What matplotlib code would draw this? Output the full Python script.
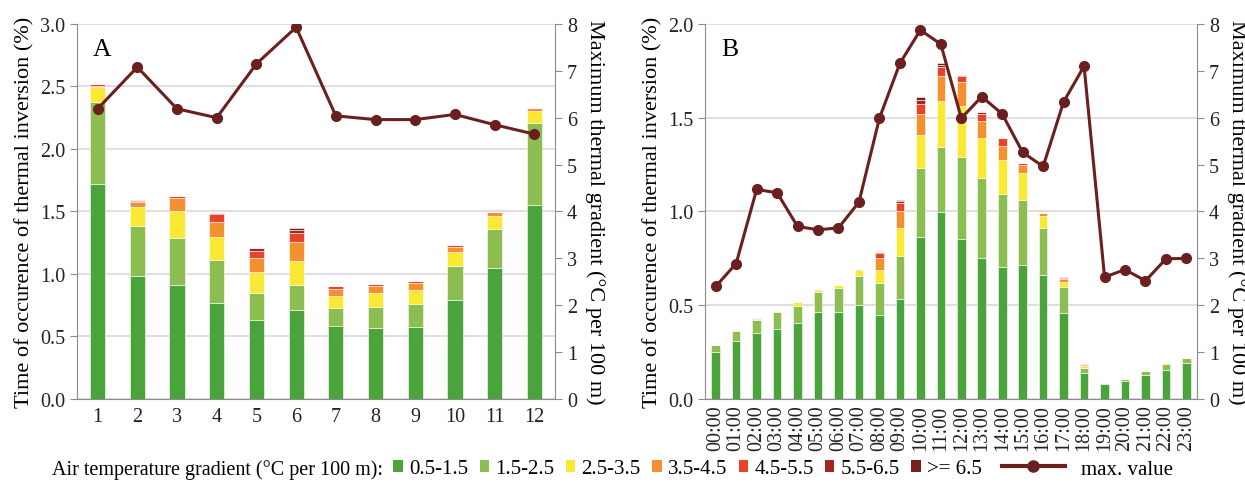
import numpy as np
import matplotlib
matplotlib.use('Agg')
from matplotlib import pyplot as plt
from matplotlib.patches import Patch
from matplotlib.lines import Line2D

# classes of air temperature gradient (°C per 100 m)
classes = ['0.5-1.5', '1.5-2.5', '2.5-3.5', '3.5-4.5', '4.5-5.5', '5.5-6.5', '>= 6.5']
colors = ['#4ba33c', '#8bbd50', '#f9e935', '#f39131', '#e8442b', '#a4281f', '#7a1d1c']
line_color = '#6c1f1f'

# panel A: months
months = [str(m) for m in range(1, 13)]
a_g1 = [1.717, 0.985, 0.911, 0.769, 0.633, 0.708, 0.585, 0.569, 0.574, 0.788, 1.044, 1.555]
a_g2 = [0.660, 0.401, 0.379, 0.345, 0.216, 0.200, 0.142, 0.166, 0.187, 0.275, 0.313, 0.651]
a_g3 = [0.120, 0.147, 0.216, 0.181, 0.168, 0.198, 0.098, 0.112, 0.110, 0.112, 0.104, 0.096]
a_g4 = [0.010, 0.045, 0.099, 0.123, 0.107, 0.147, 0.051, 0.056, 0.058, 0.043, 0.035, 0.024]
a_g5 = [0.010, 0.008, 0.019, 0.062, 0.056, 0.074, 0.024, 0.013, 0.016, 0.016, 0.000, 0.000]
a_g6 = [0.000, 0.006, 0.000, 0.010, 0.027, 0.021, 0.000, 0.000, 0.000, 0.000, 0.000, 0.000]
a_g7 = [0.000, 0.000, 0.000, 0.000, 0.000, 0.017, 0.000, 0.000, 0.000, 0.000, 0.000, 0.000]
a_max = [6.19, 7.08, 6.19, 6.00, 7.15, 7.93, 6.04, 5.96, 5.96, 6.07, 5.85, 5.65]

# panel B: hours
hours = ['%02d:00' % h for h in range(24)]
b_g1 = [0.252, 0.311, 0.354, 0.373, 0.407, 0.464, 0.462, 0.501, 0.450, 0.533, 0.866, 0.999,
        0.855, 0.752, 0.706, 0.715, 0.661, 0.457, 0.139, 0.078, 0.096, 0.126, 0.157, 0.190]
b_g2 = [0.038, 0.053, 0.067, 0.089, 0.091, 0.105, 0.132, 0.157, 0.167, 0.228, 0.366, 0.347,
        0.436, 0.425, 0.389, 0.348, 0.251, 0.139, 0.026, 0.007, 0.011, 0.023, 0.031, 0.027]
b_g3 = [0.000, 0.004, 0.006, 0.005, 0.018, 0.014, 0.012, 0.030, 0.071, 0.153, 0.174, 0.242,
        0.270, 0.213, 0.180, 0.142, 0.066, 0.030, 0.009, 0.000, 0.000, 0.000, 0.003, 0.002]
b_g4 = [0.000, 0.000, 0.003, 0.000, 0.000, 0.003, 0.000, 0.005, 0.062, 0.087, 0.112, 0.137,
        0.131, 0.094, 0.076, 0.043, 0.016, 0.012, 0.005, 0.000, 0.000, 0.000, 0.000, 0.000]
b_g5 = [0.000, 0.000, 0.000, 0.000, 0.000, 0.000, 0.000, 0.000, 0.027, 0.043, 0.055, 0.044,
        0.032, 0.036, 0.041, 0.011, 0.000, 0.009, 0.004, 0.000, 0.000, 0.000, 0.000, 0.000]
b_g6 = [0.000, 0.000, 0.000, 0.000, 0.000, 0.000, 0.000, 0.000, 0.005, 0.010, 0.022, 0.014,
        0.006, 0.011, 0.000, 0.000, 0.000, 0.005, 0.002, 0.000, 0.000, 0.000, 0.000, 0.000]
b_g7 = [0.000, 0.000, 0.000, 0.000, 0.000, 0.000, 0.000, 0.000, 0.000, 0.007, 0.016, 0.009,
        0.000, 0.000, 0.000, 0.000, 0.000, 0.000, 0.000, 0.000, 0.000, 0.000, 0.000, 0.000]
b_max = [2.40, 2.89, 4.47, 4.40, 3.68, 3.61, 3.65, 4.20, 5.99, 7.16, 7.87, 7.57,
         5.99, 6.45, 6.08, 5.26, 4.96, 6.34, 7.10, 2.60, 2.76, 2.52, 2.99, 3.00]

plt.rcParams['font.family'] = ['Liberation Serif', 'DejaVu Serif']
plt.rcParams['font.size'] = 14.5

GRID = '#d9d9d9'
SPINE = '#8c8c8c'


def draw_panel(ax, labels, stacks, maxv, ymax, width, letter, rot):
    x = np.arange(len(labels))
    bottom = np.zeros(len(labels))
    for vals, c in zip(stacks, colors):
        vals = np.array(vals)
        ax.bar(x, vals, width, bottom=bottom, color=c, edgecolor='white', linewidth=0.4, zorder=2)
        bottom += vals
    ax.set_ylim(0, ymax)
    ax.set_xlim(-0.52, len(labels) - 0.48)
    ax.set_yticks(np.arange(0, ymax + 0.01, 0.5))
    ax.yaxis.set_major_formatter(matplotlib.ticker.FormatStrFormatter('%.1f'))
    ax.yaxis.grid(True, color=GRID, linewidth=1.2, zorder=0)
    ax.set_axisbelow(True)
    ax.set_xticks(x)
    ax.set_xticklabels(labels, rotation=rot)
    ax.set_ylabel('Time of occurence of thermal inversion (%)', fontsize=16)
    for s in ['top', 'right']:
        ax.spines[s].set_visible(False)
    for s in ['left', 'bottom']:
        ax.spines[s].set_color(SPINE)
    ax.tick_params(colors='#222222', length=5, color=SPINE)
    ax.tick_params(axis='x', length=0, pad=6)
    ax.text(0.033, 0.962, letter, transform=ax.transAxes, fontsize=18.5, va='top')

    ax2 = ax.twinx()
    ax2.plot(x, maxv, color=line_color, linewidth=2.2, marker='o', markersize=7, zorder=5)
    ax2.set_ylim(0, 8)
    ax2.set_yticks(range(0, 9))
    ax2.set_ylabel('Maximum thermal gradient (°C per 100 m)', rotation=-90, labelpad=20, fontsize=16)
    for s in ['top', 'left', 'bottom']:
        ax2.spines[s].set_visible(False)
    ax2.spines['right'].set_color(SPINE)
    ax2.tick_params(colors='#222222', length=5, color=SPINE)
    return ax2


fig = plt.figure(figsize=(12.45, 4.85), dpi=100)
axA = fig.add_axes([0.0618, 0.1753, 0.3840, 0.7732])
axB = fig.add_axes([0.5663, 0.1753, 0.3952, 0.7732])

draw_panel(axA, months, [a_g1, a_g2, a_g3, a_g4, a_g5, a_g6, a_g7], a_max, 3.0, 0.38, 'A', 0)
draw_panel(axB, hours, [b_g1, b_g2, b_g3, b_g4, b_g5, b_g6, b_g7], b_max, 2.0, 0.42, 'B', 90)
axB.tick_params(axis='x', pad=4)

# legend along the bottom
fig.text(0.042, 0.031, 'Air temperature gradient (°C per 100 m):', va='center', fontsize=14.5)
patches = [Patch(facecolor=c, edgecolor='none', label=l) for c, l in zip(colors, classes)]
fig.legend(handles=patches, loc='center left', bbox_to_anchor=(0.316, 0.031), ncol=7,
           frameon=False, fontsize=15, handlelength=0.45, handleheight=0.45,
           handletextpad=0.3, columnspacing=0.55, borderpad=0, borderaxespad=0)
line_h = Line2D([], [], color=line_color, linewidth=3, marker='o', markersize=8, label='max. value')
fig.legend(handles=[line_h], loc='center left', bbox_to_anchor=(0.805, 0.031),
           frameon=False, fontsize=15, handlelength=3.0, handletextpad=0.8,
           borderpad=0, borderaxespad=0)

fig.savefig('out.png', dpi=100)
